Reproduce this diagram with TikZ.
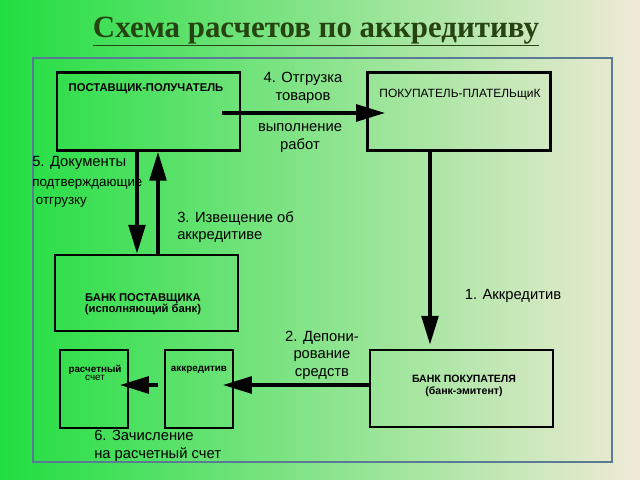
\documentclass[tikz,border=0pt]{standalone}
\usepackage{fontspec}
\setmainfont{Liberation Sans}
\newfontfamily\titlefont{Liberation Serif}
\usetikzlibrary{calc,arrows.meta}

\definecolor{bgLeft}{RGB}{32,222,64}
\definecolor{bgMid}{RGB}{128,230,140}
\definecolor{bgRight}{RGB}{240,234,214}
\definecolor{titleGreen}{RGB}{38,68,18}
\definecolor{frameGray}{RGB}{90,122,150}

\begin{document}
\begin{tikzpicture}[x=0.025cm,y=-0.025cm,
    box/.style={draw,line width=2pt,minimum width=4.575cm,minimum height=1.95cm,inner sep=0pt},
    account/.style={draw,line width=1.4pt,minimum width=1.7cm,minimum height=1.95cm,inner sep=0pt},
    boxtext/.style={font=\fontsize{8}{9}\selectfont\bfseries,inner sep=0pt,align=center},
    note/.style={font=\fontsize{10.5}{12.5}\selectfont,inner sep=0pt},
    link/.style={line width=2.3pt,-{Triangle[length=0.72cm,width=0.42cm]}}]
      % background and frame
      \shade[left color=bgLeft,middle color=bgMid,right color=bgRight] (0,0) rectangle (640,480);
      \draw[frameGray,line width=1.5pt] (33,58) rectangle (612,462);

      \node[anchor=base,font=\titlefont\bfseries\fontsize{22}{24}\selectfont,text=titleGreen] (title) at (316,37) {\underline{Схема расчетов по аккредитиву}};

      % participants
      \node[box] (supplier) at (148.5,111.5) {};
      \node[box] (buyer) at (459,111.5) {};
      \node[box,minimum height=1.9cm] (supplier bank) at (146.5,293) {};
      \node[box,minimum height=1.925cm] (buyer bank) at (461.5,388.5) {};
      \node[account] (settlement) at (94,389) {};
      \node[account] (credit) at (199,389) {};

      \node[boxtext] (supplier name) at (146,89) {ПОСТАВЩИК-ПОЛУЧАТЕЛЬ};
      \node[boxtext,font=\fontsize{8.5}{9}\selectfont] (buyer name) at (460,95) {ПОКУПАТЕЛЬ-ПЛАТЕЛЬщиК};
      \node[boxtext,font=\fontsize{8}{9}\selectfont\bfseries] (supplier bank name) at (143,304) {БАНК ПОСТАВЩИКА\\[-1pt](исполняющий банк)};
      \node[boxtext,font=\fontsize{7.5}{9}\selectfont\bfseries] (buyer bank name) at (464,386) {БАНК ПОКУПАТЕЛЯ\\[-1pt](банк-эмитент)};
      \node[boxtext,font=\fontsize{7}{6}\selectfont\bfseries] (settlement name) at (95,373) {расчетный\\{\mdseries счет}};
      \node[boxtext,font=\fontsize{7}{8}\selectfont\bfseries] (credit name) at (199,370) {аккредитив};

      % free ends of the links
      \coordinate (ship from) at (222,113);
      \coordinate (ship to) at (385,113);
      \coordinate (docs) at (137,0);
      \coordinate (notice) at (158,0);
      \coordinate (letter) at (430,0);
      \coordinate (deposit to) at (223,385);
      \coordinate (credit out) at (158,385);
      \coordinate (settle to) at (120,385);

      \draw[link] (ship from) -- (ship to);
      \draw[link] (supplier.south -| docs) -- (supplier bank.north -| docs);
      \draw[link] (supplier bank.north -| notice) -- (supplier.south -| notice);
      \draw[link] (buyer.south -| letter) -- ($(buyer bank.north -| letter)+(0,-4)$);
      \draw[link] (buyer bank.west |- deposit to) -- (deposit to);
      \draw[link] (credit out) -- (settle to);

      % labels
      \node[note,align=center] (shipment) at (303,88) {4. Отгрузка\\товаров};
      \node[note,align=center] (works) at (300,138) {выполнение\\работ};
      \node[note] (step one) at (513,296) {1. Аккредитив};
      \node[note,align=center] (step two) at (322,355) {2. Депони-\\рование\\средств};
      \node[note,align=left,anchor=west] (step three) at (177,227) {3. Извещение об\\аккредитиве};
      \node[note,align=left,anchor=north west] (step five) at (32,156) {5. Документы\\[2pt]{\fontsize{9.5}{10}\selectfont подтверждающие}\\[0pt]{\fontsize{9.5}{10}\selectfont\ отгрузку}};
      \node[note,align=left,anchor=west] (step six) at (94,446) {6. Зачисление\\на расчетный счет};
\end{tikzpicture}
\end{document}
